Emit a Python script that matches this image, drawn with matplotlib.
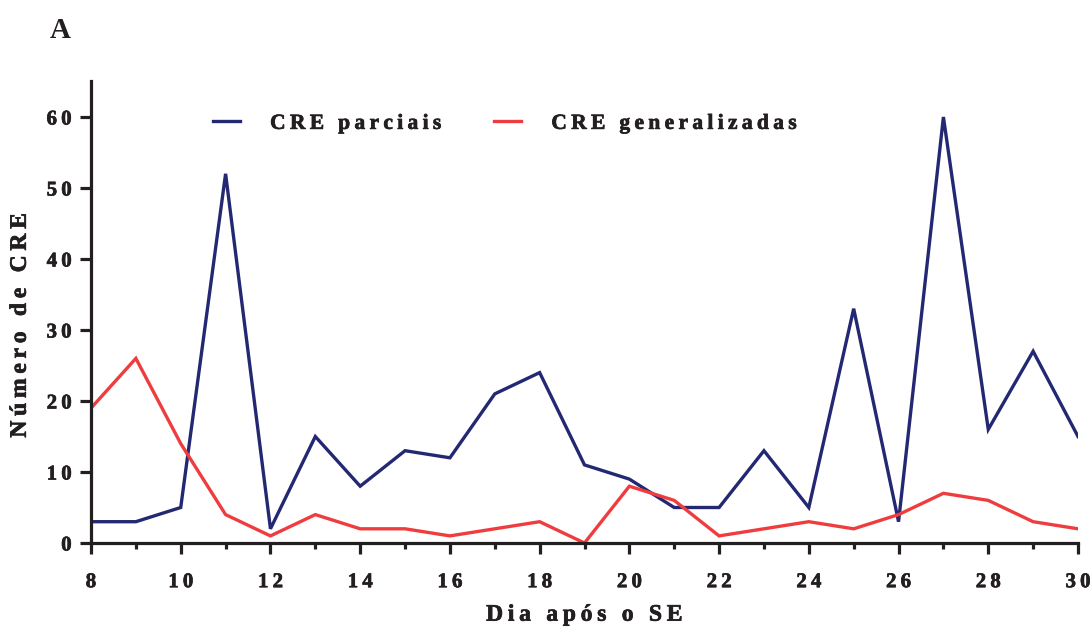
import numpy as np
import matplotlib.pyplot as plt
import matplotlib.patheffects as pe
from matplotlib.ticker import MultipleLocator

days = list(range(8, 31))
parciais = [3, 3, 5, 52, 2, 15, 8, 13, 12, 21, 24, 11, 9, 5, 5, 13, 5, 33, 3, 60, 16, 27, 15]
generalizadas = [19, 26, 14, 4, 1, 4, 2, 2, 1, 2, 3, 0, 8, 6, 1, 2, 3, 2, 4, 7, 6, 3, 2]

labels = ['CRE parciais', 'CRE generalizadas']
xlabel = 'Dia após o SE'
ylabel = 'Número de CRE'
panel = 'A'

plt.rcParams['font.family'] = ['Liberation Serif', 'DejaVu Serif']
plt.rcParams['font.weight'] = 'bold'
plt.rcParams['axes.labelweight'] = 'bold'

INK = '#231f20'
THIN = '\u2009'
heavy = [pe.withStroke(linewidth=0.5, foreground=INK)]


def spaced(s):
    # letter-spaced text: thin space between letters, wider gap between words
    return (THIN + ' ' + THIN).join(THIN.join(w) for w in s.split(' '))


fig = plt.figure(figsize=(10.92, 6.28), dpi=100)
ax = fig.add_axes([91 / 1092, 85 / 628, 987 / 1092, 461.5 / 628])

ax.plot(days, parciais, color='#232873', lw=2.4, label=spaced(labels[0]), solid_joinstyle='miter')
ax.plot(days, generalizadas, color='#ef3d3f', lw=2.4, label=spaced(labels[1]), solid_joinstyle='miter')

ax.set_xlim(8, 30)
ax.set_ylim(0, 65)
ax.xaxis.set_major_locator(MultipleLocator(2))
ax.xaxis.set_minor_locator(MultipleLocator(1))
ax.set_yticks(range(0, 61, 10))
ax.set_xticklabels([spaced(str(int(v))) for v in ax.get_xticks()])
ax.set_yticklabels([spaced(str(v)) for v in range(0, 61, 10)])

for s in ['top', 'right']:
    ax.spines[s].set_visible(False)
for s in ['left', 'bottom']:
    ax.spines[s].set_linewidth(2.3)
    ax.spines[s].set_color(INK)
    ax.spines[s].set_zorder(5)

ax.tick_params(axis='both', which='major', length=8, width=2.3, color=INK,
               labelsize=15, labelcolor=INK)
ax.tick_params(axis='x', which='major', pad=13)
ax.tick_params(axis='y', which='major', pad=6)
ax.tick_params(axis='x', which='minor', length=4, width=2.3, color=INK)
for t in ax.get_xticklabels() + ax.get_yticklabels():
    t.set_path_effects(heavy)

ax.set_xlabel(spaced(xlabel), fontsize=17, labelpad=9, color=INK, path_effects=heavy)
ax.set_ylabel(spaced(ylabel), fontsize=17, color=INK, path_effects=heavy)
ax.yaxis.set_label_coords(-0.061, 0.472)

leg = ax.legend(loc='upper left', bbox_to_anchor=(0.104, 0.972), ncol=2, frameon=False,
                fontsize=15.5, handlelength=1.25, handletextpad=1.4, columnspacing=2.5)
for t in leg.get_texts():
    t.set_color(INK)
    t.set_path_effects(heavy)

fig.text(50 / 1092, 1 - 38 / 628, panel, fontsize=21, color=INK)

fig.savefig('out.png', dpi=100)
